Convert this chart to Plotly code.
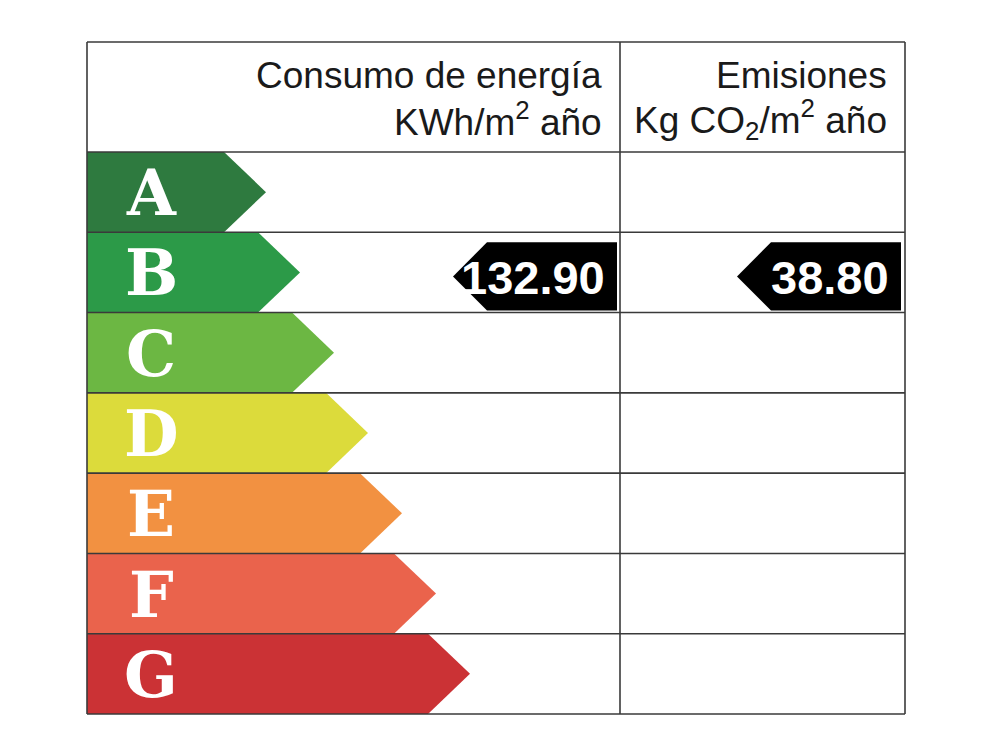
import plotly.graph_objects as go

# ---- data ----
classes = ["A", "B", "C", "D", "E", "F", "G"]
header_energy = ["Consumo de energía", "KWh/m<sup>2</sup> año"]
header_emission = ["Emisiones", "Kg CO<sub>2</sub>/m<sup>2</sup> año"]
energy_value = 132.90
energy_class = "B"
emission_value = 38.80
emission_class = "B"

# ---- styles / layout ----
class_colors = ["#2e7a3f", "#2c9a48", "#6cb743", "#dcdb3b", "#f29141", "#ea634c", "#cb3235"]
W, H = 1000, 750
OFF = 8  # page body margin
left, right, top, bottom = 87, 905, 42, 714
col_div = 620
header_bottom = 152
row_h = (bottom - header_bottom) / len(classes)
tip0, tip_step, tip_depth = 266, 34, 42
line_col = "#3a3a3a"

fig = go.Figure()

# class arrows
for i, (c, col) in enumerate(zip(classes, class_colors)):
    y0 = header_bottom + i * row_h
    y1 = y0 + row_h
    tip = tip0 + tip_step * i
    body = tip - tip_depth
    fig.add_trace(go.Scatter(
        x=[left, body, tip, body, left, left],
        y=[y0, y0, (y0 + y1) / 2, y1, y1, y0],
        fill="toself", fillcolor=col, mode="lines", line=dict(width=0, color=col),
        hoverinfo="skip", showlegend=False))
    fig.add_annotation(x=151, y=(y0 + y1) / 2 + 1, text=c, showarrow=False,
                       font=dict(family="DejaVu Serif", size=63, color="white", weight="bold"),
                       xanchor="center", yanchor="middle")

# value markers
def marker(value, cls, x_right):
    i = classes.index(cls)
    y0 = header_bottom + i * row_h + 10
    y1 = header_bottom + (i + 1) * row_h - 2
    xm = x_right - 130
    tip = xm - 34
    fig.add_trace(go.Scatter(
        x=[x_right, xm, tip, xm, x_right, x_right],
        y=[y0, y0, (y0 + y1) / 2, y1, y1, y0],
        fill="toself", fillcolor="black", mode="lines", line=dict(width=0, color="black"),
        hoverinfo="skip", showlegend=False))
    fig.add_annotation(x=x_right - 10, y=(y0 + y1) / 2 + 1, text=f"{value:.2f}", showarrow=False,
                       font=dict(family="Liberation Sans", size=47, color="white", weight="bold"),
                       xanchor="right", yanchor="middle")

marker(energy_value, energy_class, 617)
marker(emission_value, emission_class, 901)

# table lines
lines = []
for i in range(len(classes)):
    y = header_bottom + i * row_h
    lines.append(((left, y), (right, y)))
lines += [((left, top), (right, top)), ((left, bottom), (right, bottom)),
          ((left, top), (left, bottom)), ((right, top), (right, bottom)),
          ((col_div, top), (col_div, bottom))]
for (xa, ya), (xb, yb) in lines:
    fig.add_trace(go.Scatter(x=[xa, xb], y=[ya, yb], mode="lines",
                             line=dict(color=line_col, width=1.6),
                             hoverinfo="skip", showlegend=False))

# headers
hfont = dict(family="Liberation Sans", size=37, color="#1a1a1a")
for k, t in enumerate(header_energy):
    fig.add_annotation(x=604, y=75 + 44 * k, text=t, showarrow=False, font=hfont,
                       xanchor="right", yanchor="middle")
for k, t in enumerate(header_emission):
    fig.add_annotation(x=889, y=75 + 44 * k, text=t, showarrow=False, font=hfont,
                       xanchor="right", yanchor="middle")

fig.update_layout(
    width=W - OFF, height=H - OFF, margin=dict(l=0, r=0, t=0, b=0),
    paper_bgcolor="white", plot_bgcolor="white",
    xaxis=dict(range=[OFF, W], visible=False, fixedrange=True),
    yaxis=dict(range=[H, OFF], visible=False, fixedrange=True),
)
fig.write_html("out.html")
